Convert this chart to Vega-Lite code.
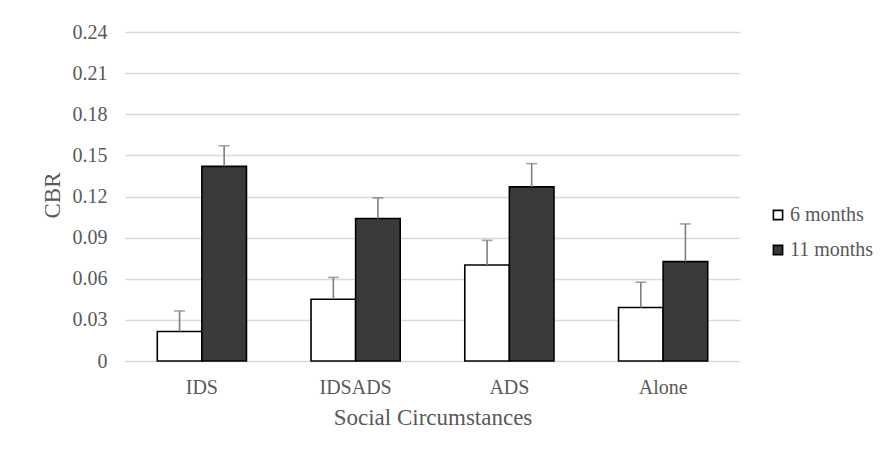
{
  "$schema": "https://vega.github.io/schema/vega-lite/v6.json",
  "width": 615,
  "height": 329,
  "autosize": {"type": "none"},
  "padding": {"left": 125, "top": 32, "right": 146, "bottom": 95},
  "background": "white",
  "config": {
    "view": {"stroke": null},
    "font": "Liberation Serif, Times New Roman, serif"
  },
  "data": {
    "values": [
      {"group": "IDS", "period": "6 months", "value": 0.0215, "upper": 0.0365},
      {"group": "IDS", "period": "11 months", "value": 0.142, "upper": 0.157},
      {"group": "IDSADS", "period": "6 months", "value": 0.045, "upper": 0.061},
      {"group": "IDSADS", "period": "11 months", "value": 0.104, "upper": 0.119},
      {"group": "ADS", "period": "6 months", "value": 0.070, "upper": 0.088},
      {"group": "ADS", "period": "11 months", "value": 0.127, "upper": 0.144},
      {"group": "Alone", "period": "6 months", "value": 0.039, "upper": 0.0575},
      {"group": "Alone", "period": "11 months", "value": 0.0725, "upper": 0.100}
    ]
  },
  "encoding": {
    "x": {
      "field": "group",
      "type": "nominal",
      "sort": ["IDS", "IDSADS", "ADS", "Alone"],
      "scale": {"paddingInner": 0.42, "paddingOuter": 0.21},
      "axis": {
        "title": "Social Circumstances",
        "titleFont": "Liberation Serif, Times New Roman, serif",
        "titleFontSize": 23,
        "titleFontWeight": "normal",
        "titleColor": "#595959",
        "titleY": 45,
        "titleBaseline": "top",
        "labelFont": "Liberation Serif, Times New Roman, serif",
        "labelFontSize": 20,
        "labelColor": "#595959",
        "labelAngle": 0,
        "labelPadding": 16,
        "ticks": false,
        "domain": false
      }
    },
    "xOffset": {
      "field": "period",
      "type": "nominal",
      "sort": ["6 months", "11 months"],
      "scale": {"paddingInner": 0, "paddingOuter": 0}
    }
  },
  "layer": [
    {
      "mark": {"type": "bar", "stroke": "black", "strokeWidth": 1.6},
      "encoding": {
        "y": {
          "field": "value",
          "type": "quantitative",
          "scale": {"domain": [0, 0.24], "nice": false},
          "axis": {
            "title": "CBR",
            "titleFont": "Liberation Serif, Times New Roman, serif",
            "titleFontSize": 23,
            "titleFontWeight": "normal",
            "titleColor": "#595959",
            "titleAngle": -90,
            "titleX": -73,
            "titleY": 163,
            "titleAlign": "center",
            "titleBaseline": "middle",
            "labelFont": "Liberation Serif, Times New Roman, serif",
            "labelFontSize": 20,
            "labelColor": "#595959",
            "labelPadding": 18,
            "values": [0, 0.03, 0.06, 0.09, 0.12, 0.15, 0.18, 0.21, 0.24],
            "labelExpr": "datum.value == 0 ? '0' : format(datum.value, '.2f')",
            "ticks": false,
            "domain": false,
            "grid": true,
            "gridColor": "#d9d9d9",
            "gridWidth": 1.3
          }
        },
        "fill": {
          "field": "period",
          "type": "nominal",
          "scale": {"domain": ["6 months", "11 months"], "range": ["white", "#3a3a3a"]},
          "legend": {
            "title": null,
            "orient": "none",
            "legendX": 643,
            "legendY": 173,
            "symbolType": "square",
            "symbolSize": 85,
            "symbolStrokeColor": "black",
            "symbolStrokeWidth": 1.6,
            "labelFont": "Liberation Serif, Times New Roman, serif",
            "labelFontSize": 20,
            "labelColor": "#595959",
            "labelOffset": 2,
            "rowPadding": 15
          }
        }
      }
    },
    {
      "mark": {"type": "rule", "color": "#7f7f7f", "strokeWidth": 1.6},
      "encoding": {
        "y": {"field": "value", "type": "quantitative"},
        "y2": {"field": "upper"}
      }
    },
    {
      "mark": {"type": "tick", "color": "#7f7f7f", "thickness": 1.6, "size": 11, "orient": "horizontal"},
      "encoding": {
        "y": {"field": "upper", "type": "quantitative"}
      }
    }
  ]
}
